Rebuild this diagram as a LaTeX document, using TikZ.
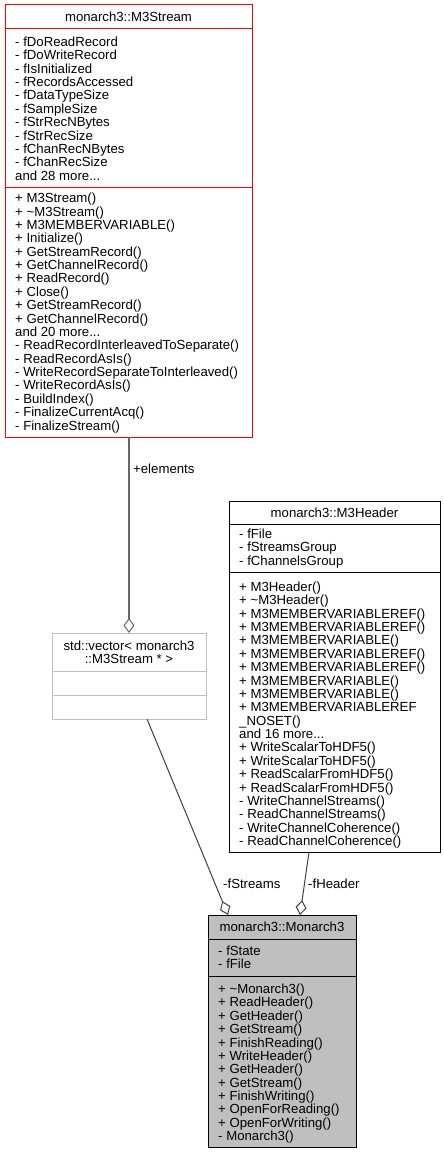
\documentclass[tikz,border=0pt]{standalone}
\usepackage{fontspec}
\setmainfont{Liberation Sans}
\usetikzlibrary{arrows.meta,calc}
\begin{document}
\begin{tikzpicture}[x=1pt,y=-1pt,
  box/.style={draw, line width=1pt, anchor=north west, inner sep=0pt, outer sep=0pt},
  sep/.style={line width=1pt},
  txt/.style={anchor=base west, inner sep=0pt, align=left, font=\fontsize{13.2}{13.37}\selectfont},
  ttl/.style={anchor=base, inner sep=0pt, align=center, font=\fontsize{13.2}{13.1}\selectfont},
  lbl/.style={anchor=base west, inner sep=0pt, font=\fontsize{13.2}{13.37}\selectfont},
  agg/.style={line width=1pt, draw=black!75, -{Diamond[open,length=15pt,width=11pt]}},
  aggel/.style={line width=1.5pt, draw=black!60, -{Diamond[open,length=15pt,width=11pt,line width=1pt]}}
]
\useasboundingbox (0,0) rectangle (444,1153);
\fill[white] (0,0) rectangle (444,1153);

% M3Stream
\node[box, draw=red, minimum width=247pt, minimum height=432pt] (m3stream) at (5,5) {};
\draw[sep, red] (5,29) -- (252,29);
\draw[sep, red] (5,187) -- (252,187);
\node[ttl] (m3streamT) at (128.5,21.5) {monarch3::M3Stream};
\node[txt] (m3streamA) at (15,180.2) {- fDoReadRecord\\- fDoWriteRecord\\- fIsInitialized\\- fRecordsAccessed\\- fDataTypeSize\\- fSampleSize\\- fStrRecNBytes\\- fStrRecSize\\- fChanRecNBytes\\- fChanRecSize\\and 28 more...};
\node[txt] (m3streamM) at (15,430) {+ M3Stream()\\+ \textasciitilde M3Stream()\\+ M3MEMBERVARIABLE()\\+ Initialize()\\+ GetStreamRecord()\\+ GetChannelRecord()\\+ ReadRecord()\\+ Close()\\+ GetStreamRecord()\\+ GetChannelRecord()\\and 20 more...\\- ReadRecordInterleavedToSeparate()\\- ReadRecordAsIs()\\- WriteRecordSeparateToInterleaved()\\- WriteRecordAsIs()\\- BuildIndex()\\- FinalizeCurrentAcq()\\- FinalizeStream()};

% vector
\node[box, draw=black!25, minimum width=154pt, minimum height=86pt] (vector) at (52,633) {};
\draw[sep, black!25] (52,671) -- (206,671);
\draw[sep, black!25] (52,695) -- (206,695);
\node[ttl] (vectorT) at (129,663.6) {std::vector< monarch3\\::M3Stream * >};

% M3Header
\node[box, minimum width=211pt, minimum height=351pt] (header) at (229,501) {};
\draw[sep] (229,524) -- (440,524);
\draw[sep] (229,572) -- (440,572);
\node[ttl] (headerT) at (334.5,517.5) {monarch3::M3Header};
\node[txt] (headerA) at (239,565.2) {- fFile\\- fStreamsGroup\\- fChannelsGroup};
\node[txt] (headerM) at (239,845.5) {+ M3Header()\\+ \textasciitilde M3Header()\\+ M3MEMBERVARIABLEREF()\\+ M3MEMBERVARIABLEREF()\\+ M3MEMBERVARIABLE()\\+ M3MEMBERVARIABLEREF()\\+ M3MEMBERVARIABLEREF()\\+ M3MEMBERVARIABLE()\\+ M3MEMBERVARIABLE()\\+ M3MEMBERVARIABLEREF\\\_NOSET()\\and 16 more...\\+ WriteScalarToHDF5()\\+ WriteScalarToHDF5()\\+ ReadScalarFromHDF5()\\+ ReadScalarFromHDF5()\\- WriteChannelStreams()\\- ReadChannelStreams()\\- WriteChannelCoherence()\\- ReadChannelCoherence()};

% Monarch3
\node[box, fill=black!25, minimum width=148pt, minimum height=232pt] (monarch) at (208,915) {};
\draw[sep] (208,939) -- (356,939);
\draw[sep] (208,976) -- (356,976);
\node[ttl] (monarchT) at (282,931.5) {monarch3::Monarch3};
\node[txt] (monarchA) at (218,968.9) {- fState\\- fFile};
\node[txt] (monarchM) at (218,1140.6) {+ \textasciitilde Monarch3()\\+ ReadHeader()\\+ GetHeader()\\+ GetStream()\\+ FinishReading()\\+ WriteHeader()\\+ GetHeader()\\+ GetStream()\\+ FinishWriting()\\+ OpenForReading()\\+ OpenForWriting()\\- Monarch3()};

% connectors
\draw[aggel] ($(m3stream.south west)+(124,0)$) -- ($(vector.north west)+(77,0)$);
\node[lbl] (lelem) at (133,473.5) {+elements};
\draw[agg] ($(vector.south west)+(95,0)$) -- ($(monarch.north west)+(20,0)$);
\node[lbl] (lstreams) at (223,888.5) {-fStreams};
\draw[agg] ($(header.south west)+(80,0)$) -- ($(monarch.north west)+(92,0)$);
\node[lbl] (lheader) at (308,888.5) {-fHeader};
\end{tikzpicture}
\end{document}
